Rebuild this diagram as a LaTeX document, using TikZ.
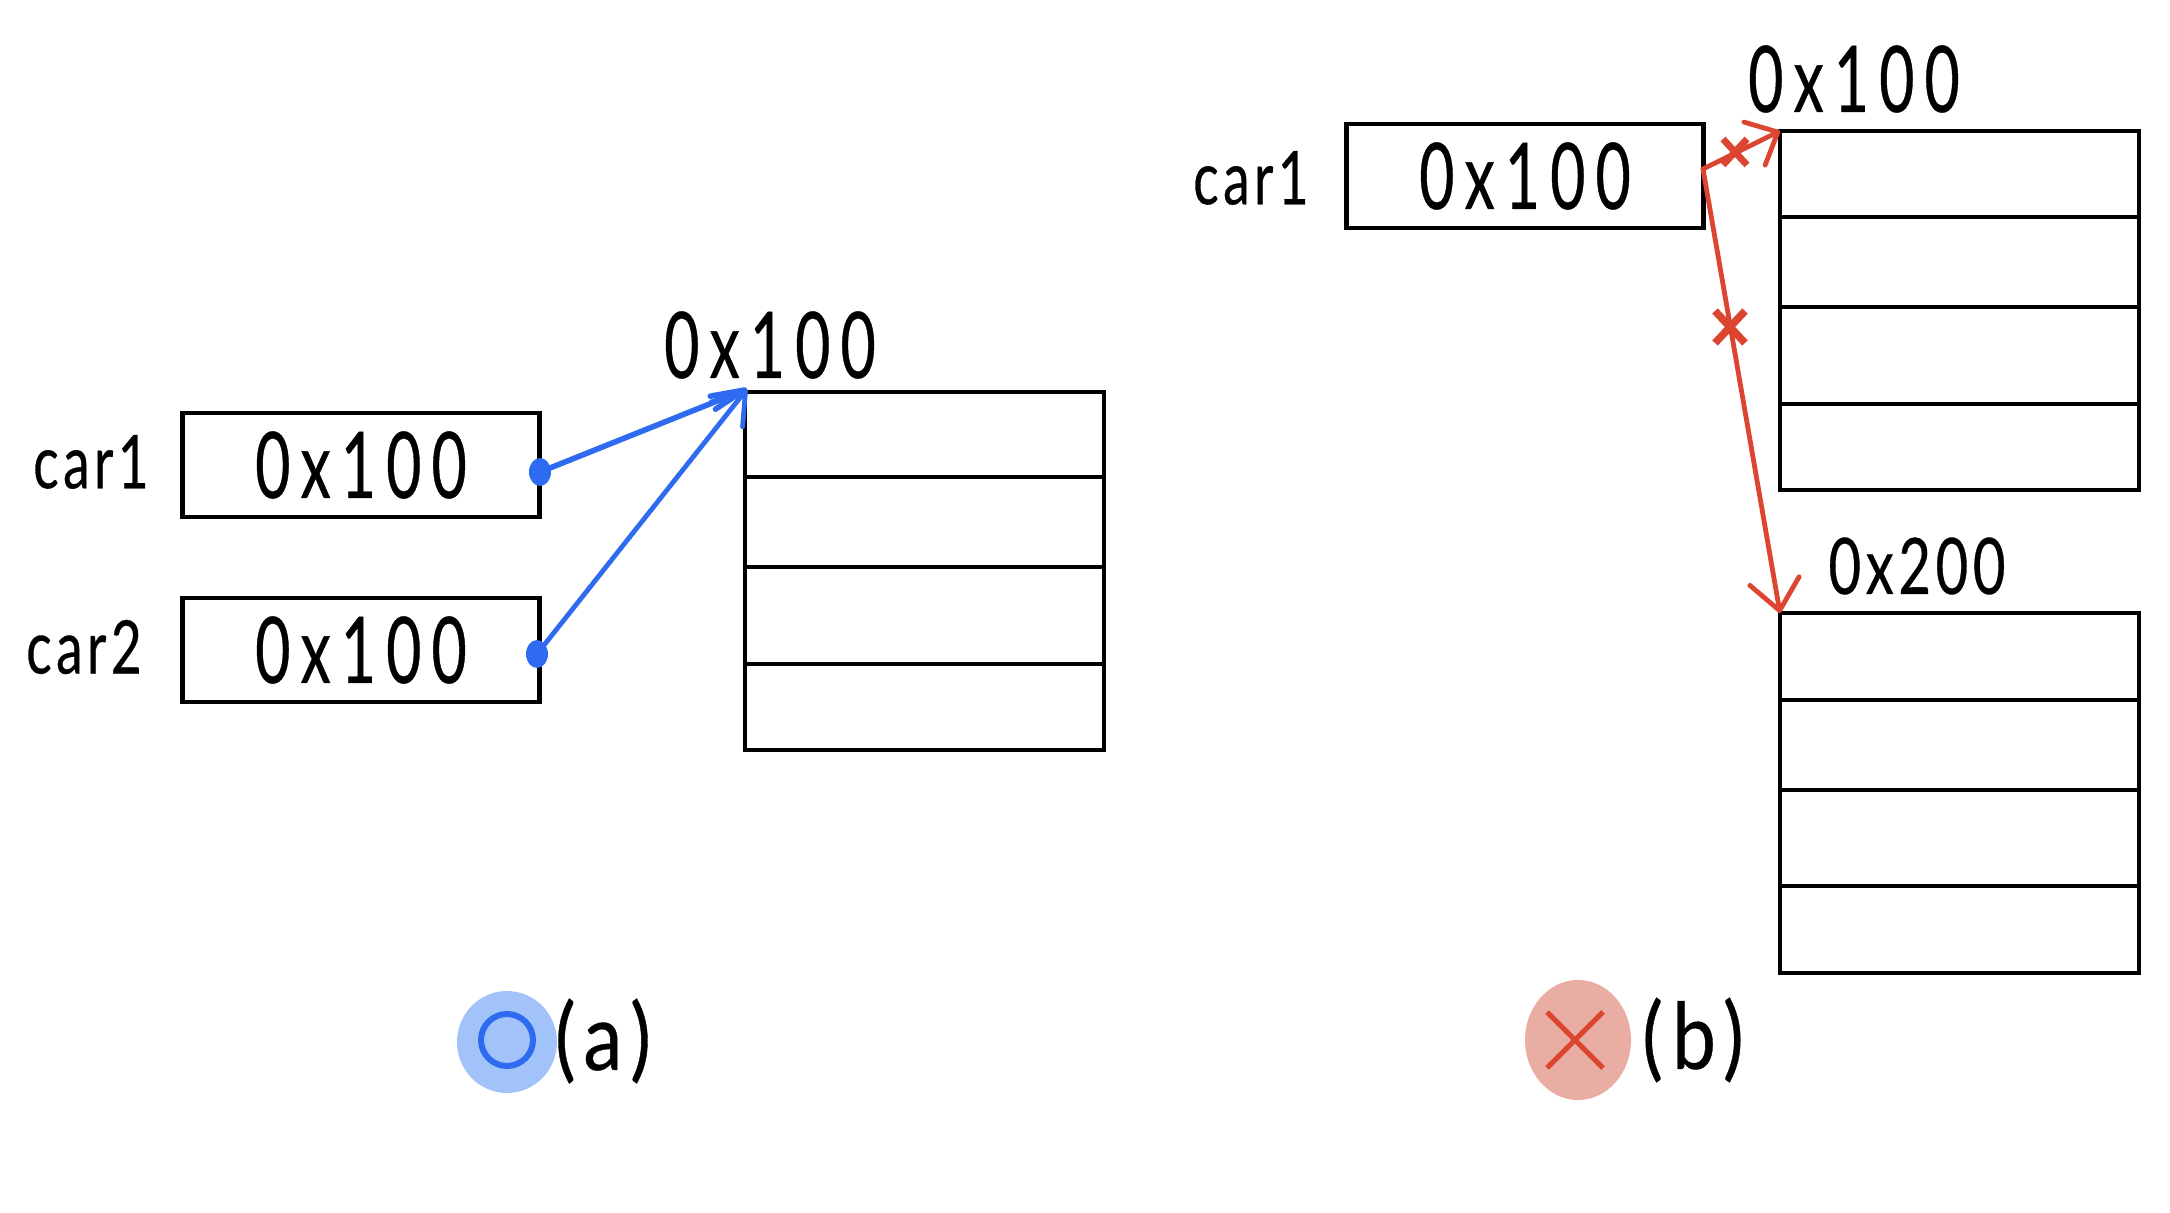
\documentclass[tikz,border=0pt]{standalone}
\usepackage{fontspec}
\usetikzlibrary{arrows.meta,shapes.geometric,shapes.misc}
\newfontfamily\handbig[FakeStretch=0.66,LetterSpace=11,FakeBold=0.4]{Lato}
\newfontfamily\handmid[FakeStretch=0.72,LetterSpace=6,FakeBold=0.4]{Lato}
\newfontfamily\handcap[FakeStretch=0.85,LetterSpace=10,FakeBold=0.4]{Lato}
\definecolor{penblue}{HTML}{2F6BF0}
\definecolor{softblue}{HTML}{A1C3F9}
\definecolor{penred}{HTML}{DC4530}
\definecolor{softred}{HTML}{EAADA3}
\tikzset{
  x=0.5pt,y=-0.5pt,
  every node/.style={inner sep=0pt,outer sep=0pt},
  addr/.style={font=\handbig\fontsize{46}{46}\selectfont},
  addrsmall/.style={font=\handmid\fontsize{39}{39}\selectfont},
  varname/.style={font=\handmid\fontsize{37}{37}\selectfont},
  caption/.style={font=\handcap\fontsize{46}{46}\selectfont},
  varbox/.style={draw,line width=2.3pt,rectangle,minimum width=178.5pt,minimum height=52pt,addr},
  cell/.style={draw,line width=2.3pt,rectangle,anchor=north west,minimum width=179.5pt},
  bluearrow/.style={penblue,line width=2.8pt,line cap=round},
  redarrow/.style={penred,line width=2.4pt,line cap=round},
  pin/.style={ellipse,fill=penblue,minimum width=11pt,minimum height=14pt},
  redcross/.style={cross out,draw=penred,line width=3.4pt,minimum width=12pt,minimum height=13pt},
}
\begin{document}
\begin{tikzpicture}
\useasboundingbox (0,0) rectangle (2170,1213);

% left side (a)
\node[varbox] (boxA) at (361,465) {0x100\hspace{8pt}};
\node[varbox] (boxB) at (361,650) {0x100\hspace{8pt}};
\node[varname] (carA) at (91,462) {car1};
\node[varname] (carB) at (84,647) {car2};
\node[cell,minimum height=42.5pt] (ma1) at (745,392) {};
\node[cell,minimum height=45pt] (ma2) at (745,477) {};
\node[cell,minimum height=48.5pt] (ma3) at (745,567) {};
\node[cell,minimum height=43pt] (ma4) at (745,664) {};
\node[addr] (addrA) at (770,345) {0x100};
\node[pin] (pinA) at (540,472) {};
\node[pin] (pinB) at (537,654) {};
\coordinate (tipA) at (747,389);
\draw[bluearrow,-{Straight Barb[length=17pt,width=7pt,round]}] (pinA.center) -- (tipA);
\draw[bluearrow,line width=2.4pt,-{Straight Barb[length=15pt,width=20pt,round]}] (pinB.center) -- (tipA);

% right side (b)
\node[varbox] (boxC) at (1525,176) {0x100\hspace{8pt}};
\node[varname] (carC) at (1251,178) {car1};
\node[cell,minimum height=43pt] (mb1) at (1780,131) {};
\node[cell,minimum height=45pt] (mb2) at (1780,217) {};
\node[cell,minimum height=48.5pt] (mb3) at (1780,307) {};
\node[cell,minimum height=43pt] (mb4) at (1780,404) {};
\node[cell,minimum height=43.5pt] (mc1) at (1780,613) {};
\node[cell,minimum height=45pt] (mc2) at (1780,700) {};
\node[cell,minimum height=48pt] (mc3) at (1780,790) {};
\node[cell,minimum height=43.5pt] (mc4) at (1780,886) {};
\node[addr] (addrB) at (1854,79) {0x100};
\node[addrsmall] (addrC) at (1917,566) {0x200};
\coordinate (fork) at (1703,169);
\draw[redarrow,-{Straight Barb[length=13pt,width=24pt,round]}] (fork) -- (mb1.north west);
\draw[redarrow,-{Straight Barb[length=15pt,width=25pt,round]}] (fork) -- (mc1.north west);
\node[redcross] (crossA) at (1735,152) {};
\node[redcross,minimum width=15pt,minimum height=16pt,line width=3.8pt] (crossB) at (1730,327) {};

% captions
\node[ellipse,fill=softblue,minimum width=50pt,minimum height=51pt] (okblob) at (507,1042) {};
\node[circle,draw=penblue,line width=3pt,minimum size=26pt] (okmark) at (507,1040) {};
\node[caption] (capA) at (603,1041) {(a)};
\node[ellipse,fill=softred,minimum width=53pt,minimum height=60pt] (noblob) at (1578,1040) {};
\node[cross out,draw=penred,line width=2.6pt,minimum width=28pt,minimum height=28pt] (nomark) at (1575,1040) {};
\node[caption] (capB) at (1693,1040) {(b)};
\end{tikzpicture}
\end{document}
